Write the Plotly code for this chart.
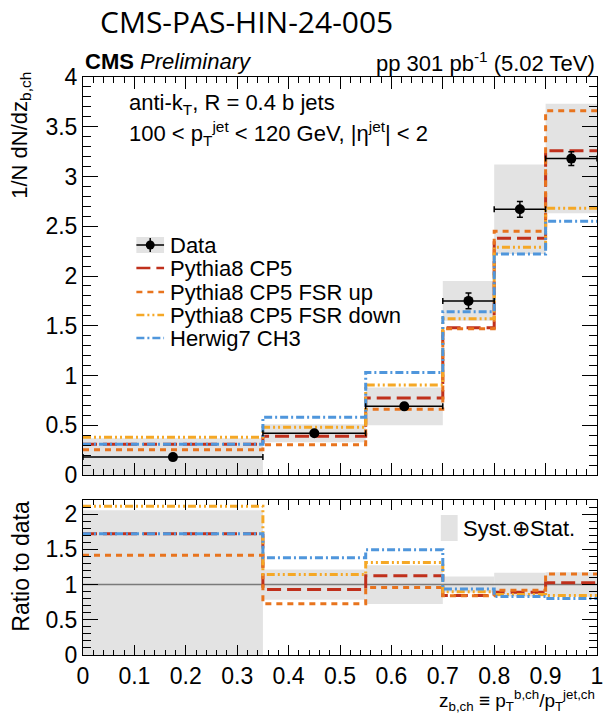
import plotly.graph_objects as go

# Bin edges of z_b,ch and measured distribution
edges = [0.0, 0.35, 0.55, 0.70, 0.80, 0.90, 1.00]
data_y = [0.18, 0.42, 0.69, 1.75, 2.67, 3.18]
data_stat = [0.02, 0.015, 0.03, 0.08, 0.08, 0.07]
data_total = [0.19, 0.09, 0.19, 0.20, 0.45, 0.55]

# Generator predictions
pythia_cp5 = [0.31, 0.39, 0.775, 1.48, 2.38, 3.26]
pythia_fsr_up = [0.255, 0.305, 0.66, 1.47, 2.45, 3.66]
pythia_fsr_down = [0.38, 0.48, 0.905, 1.57, 2.29, 2.68]
herwig_ch3 = [0.31, 0.58, 1.03, 1.64, 2.22, 2.55]

models = [
    ("Pythia8 CP5", pythia_cp5, "#c0301c", "14px,6px"),
    ("Pythia8 CP5 FSR up", pythia_fsr_up, "#e8741e", "6px,5px"),
    ("Pythia8 CP5 FSR down", pythia_fsr_down, "#f5a826", "8px,3px,2px,3px,2px,3px"),
    ("Herwig7 CH3", herwig_ch3, "#4f96dc", "8px,3px,2px,3px"),
]

centers = [(a + b) / 2 for a, b in zip(edges[:-1], edges[1:])]
widths = [b - a for a, b in zip(edges[:-1], edges[1:])]
half = [w / 2 for w in widths]

FONT = "Liberation Sans"
W, H = 612, 713
L, R, T, B = 83, 9, 77, 58


def P(x, y):
    """Pixel position -> paper coordinates."""
    return (x - L) / (W - L - R), (H - B - y) / (H - T - B)


fig = go.Figure()

# ---- upper panel ----
fig.add_trace(go.Bar(
    x=centers, y=[2 * e for e in data_total],
    base=[v - e for v, e in zip(data_y, data_total)],
    width=widths, marker=dict(color="#e3e3e3", line=dict(width=0)),
    xaxis="x", yaxis="y", showlegend=False, hoverinfo="skip"))

for name, vals, color, dash in models:
    fig.add_trace(go.Scatter(
        x=edges, y=vals + [vals[-1]], mode="lines", line_shape="hv",
        line=dict(color=color, width=3, dash=dash),
        xaxis="x", yaxis="y", showlegend=False, name=name))

fig.add_trace(go.Scatter(
    x=centers, y=data_y, mode="markers",
    marker=dict(color="black", size=10),
    error_y=dict(type="data", array=data_stat, color="black", thickness=1.5, width=3),
    error_x=dict(type="data", array=half, color="black", thickness=1.5, width=3),
    xaxis="x", yaxis="y", showlegend=False, name="Data"))

# ---- ratio panel ----
ratio_err = [e / v for e, v in zip(data_total, data_y)]
fig.add_trace(go.Bar(
    x=centers, y=[2 * r for r in ratio_err],
    base=[1 - r for r in ratio_err],
    width=widths, marker=dict(color="#e3e3e3", line=dict(width=0)),
    xaxis="x2", yaxis="y2", showlegend=False, hoverinfo="skip"))

fig.add_trace(go.Scatter(
    x=[edges[0], edges[-1]], y=[1, 1], mode="lines",
    line=dict(color="#7a7a7a", width=1.5),
    xaxis="x2", yaxis="y2", showlegend=False, hoverinfo="skip"))

for name, vals, color, dash in models:
    ratio = [m / d for m, d in zip(vals, data_y)]
    fig.add_trace(go.Scatter(
        x=edges, y=ratio + [ratio[-1]], mode="lines", line_shape="hv",
        line=dict(color=color, width=3, dash=dash),
        xaxis="x2", yaxis="y2", showlegend=False, name=name))

top_lo = P(0, 475)[1]
rat_hi = P(0, 500)[1]

axis_common = dict(showline=True, linecolor="black", linewidth=1, mirror="ticks",
                   ticks="inside", showgrid=False, zeroline=False,
                   tickfont=dict(family=FONT, size=23, color="black"), tickcolor="black")

fig.update_layout(
    width=W, height=H, margin=dict(l=L, r=R, t=T, b=B),
    paper_bgcolor="white", plot_bgcolor="white", barmode="overlay",
    showlegend=False,
    xaxis=dict(domain=[0, 1], range=[0, 1], anchor="y", showticklabels=False,
               dtick=0.1, ticklen=12,
               minor=dict(ticks="inside", dtick=0.02, ticklen=6, tickcolor="black"),
               **axis_common),
    yaxis=dict(domain=[top_lo, 1], range=[0, 4], anchor="x", dtick=0.5, ticklen=15,
               minor=dict(ticks="inside", dtick=0.1, ticklen=8, tickcolor="black"),
               **axis_common),
    xaxis2=dict(domain=[0, 1], range=[0, 1], anchor="y2", dtick=0.1, ticklen=10,
                minor=dict(ticks="inside", dtick=0.02, ticklen=5, tickcolor="black"),
                **axis_common),
    yaxis2=dict(domain=[0, rat_hi], range=[0, 2.2], anchor="x2", dtick=0.5, ticklen=15,
                minor=dict(ticks="inside", dtick=0.1, ticklen=8, tickcolor="black"),
                **axis_common),
)

annotations = []


def text(x, y, s, size=22, xanchor="left", family=FONT, angle=0, **kw):
    px, py = P(x, y)
    annotations.append(dict(
        x=px, y=py, xref="paper", yref="paper", text=s, showarrow=False,
        xanchor=xanchor, yanchor="middle", textangle=angle,
        font=dict(family=family, size=size, color="black", **kw)))


text(98, 21, "CMS-PAS-HIN-24-005", size=30, family="Open Sans")
text(83, 62, "<b>CMS</b> <i>Preliminary</i>", size=22)
text(603, 62, "pp 301 pb<sup>-1</sup> (5.02 TeV)", size=22, xanchor="right")
text(128, 104, "anti-k<sub>T</sub>, R = 0.4 b jets", size=22)
text(128, 134, "100 &lt; p<sub>T</sub><sup>jet</sup> &lt; 120 GeV, |η<sup>jet</sup>| &lt; 2", size=22)
text(20, 135, "1/N dN/dz<sub>b,ch</sub>", size=22, xanchor="center", angle=-90)
text(20, 566, "Ratio to data", size=23, xanchor="center", angle=-90)
text(603, 700, "z<sub>b,ch</sub> ≡ p<sub>T</sub><sup>b,ch</sup>/p<sub>T</sub><sup>jet,ch</sup>",
     size=19, xanchor="right")

# legend
shapes = []
leg_rows = [245, 268, 292, 315, 338]
lx0, lx1, ltx = 137, 165, 169


def rect(x0, y0, x1, y1, color):
    a, b = P(x0, y0)
    c, d = P(x1, y1)
    shapes.append(dict(type="rect", xref="paper", yref="paper", x0=a, y0=b, x1=c, y1=d,
                       fillcolor=color, line=dict(width=0), layer="above"))


def seg(x0, y0, x1, y1, color, width, dash="solid"):
    a, b = P(x0, y0)
    c, d = P(x1, y1)
    shapes.append(dict(type="line", xref="paper", yref="paper", x0=a, y0=b, x1=c, y1=d,
                       line=dict(color=color, width=width, dash=dash), layer="above"))


yr = leg_rows[0]
rect(lx0, yr - 8, lx1, yr + 8, "#e3e3e3")
seg(lx0, yr, lx1, yr, "black", 1.5)
seg((lx0 + lx1) / 2, yr - 7, (lx0 + lx1) / 2, yr + 7, "black", 1.5)
cx, cy = P((lx0 + lx1) / 2, yr)
r = 4.5 / (W - L - R), 4.5 / (H - T - B)
shapes.append(dict(type="circle", xref="paper", yref="paper",
                   x0=cx - r[0], x1=cx + r[0], y0=cy - r[1], y1=cy + r[1],
                   fillcolor="black", line=dict(width=0), layer="above"))
text(ltx, yr, "Data", size=22)

for (name, vals, color, dash), yr in zip(models, leg_rows[1:]):
    seg(lx0, yr, lx1, yr, color, 2.5, dash)
    text(ltx, yr, name, size=22)

# Syst.⊕Stat. label in ratio panel
rect(445, 515, 462, 541, "#e3e3e3")
text(465, 528, "Syst.⊕Stat.", size=22)

fig.update_layout(annotations=annotations, shapes=shapes)
fig.write_html("out.html")
